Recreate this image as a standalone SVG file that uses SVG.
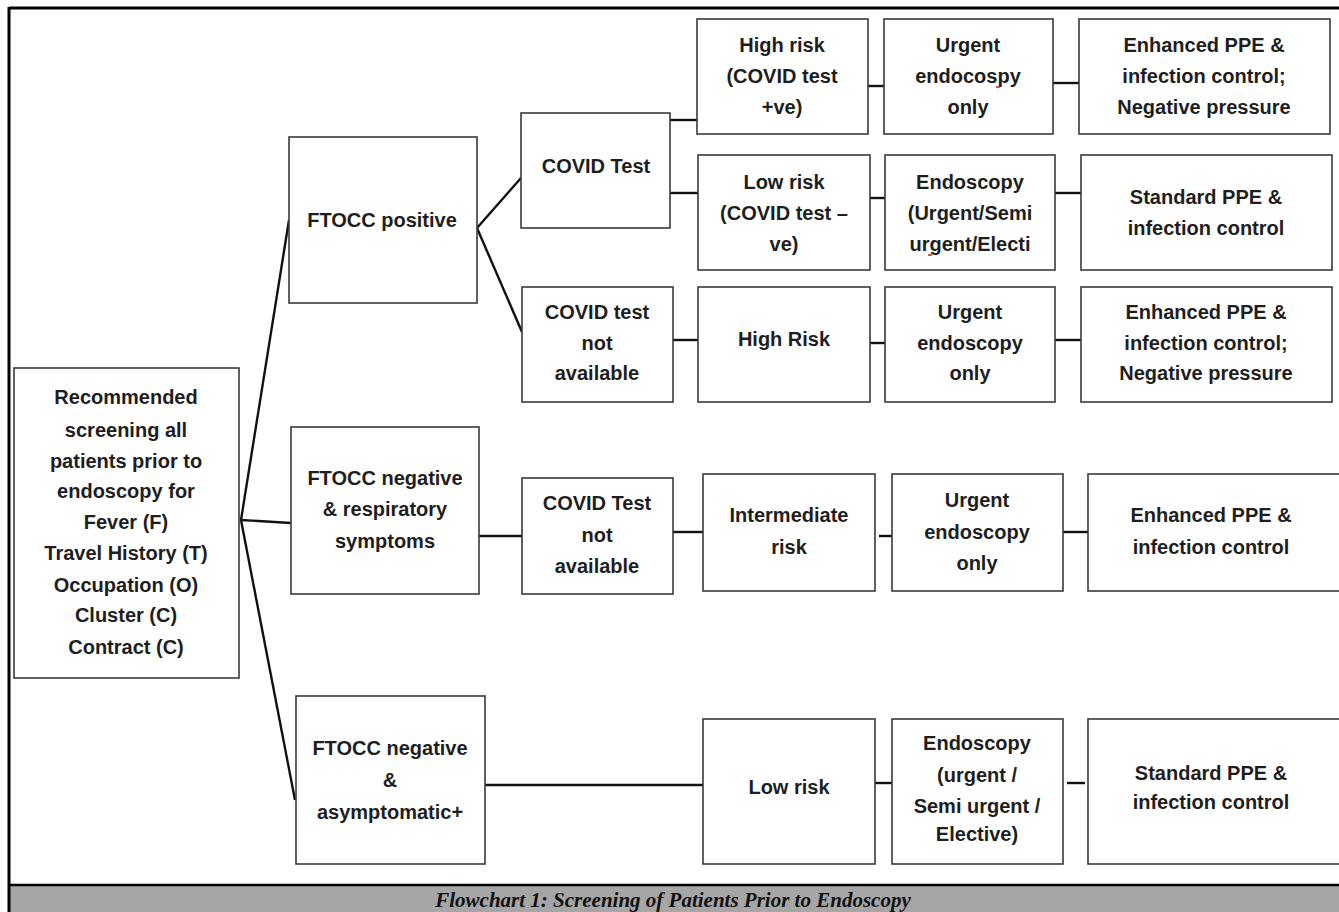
<svg xmlns="http://www.w3.org/2000/svg" width="1339" height="912" viewBox="0 0 1339 912">
<style>
.box{fill:#fff;stroke:#3a3a3a;stroke-width:1.6}
.t{font-family:"Liberation Sans",Arial,sans-serif;font-weight:bold;font-size:20px;fill:#1e1e1e;text-anchor:middle;dominant-baseline:central}
.c{stroke:#111;stroke-width:2.4;fill:none}
.cap{font-family:"Liberation Serif","Times New Roman",serif;font-weight:bold;font-style:italic;font-size:21px;fill:#111;text-anchor:middle;dominant-baseline:central}
.sq{stroke:#d02020;stroke-width:1.5}
</style>
<rect x="0" y="0" width="1339" height="912" fill="#fff"/>
<rect x="9" y="885" width="1330" height="27" fill="#a6a6a6"/>
<g id="frame" fill="none" stroke="#000">
<line x1="9" y1="8" x2="1339" y2="8" stroke-width="3"/>
<line x1="9" y1="7" x2="9" y2="912" stroke-width="3"/>
<line x1="9" y1="885" x2="1339" y2="885" stroke-width="2.5"/>
</g>
<text id="caption" class="cap" x="673" y="900">Flowchart 1: Screening of Patients Prior to Endoscopy</text>

<g id="connectors" class="c">
<line x1="241" y1="520" x2="289" y2="220"/>
<line x1="241" y1="520" x2="291" y2="523"/>
<line x1="241" y1="520" x2="295" y2="800"/>
<line x1="477" y1="228" x2="521" y2="178"/>
<line x1="477" y1="228" x2="522" y2="332"/>
<line x1="670" y1="120" x2="697" y2="120"/>
<line x1="670" y1="193" x2="698" y2="193"/>
<line x1="868" y1="86" x2="884" y2="86"/>
<line x1="1053" y1="83" x2="1079" y2="83"/>
<line x1="870" y1="198" x2="885" y2="198"/>
<line x1="1055" y1="193" x2="1081" y2="193"/>
<line x1="673" y1="340" x2="698" y2="340"/>
<line x1="870" y1="343" x2="885" y2="343"/>
<line x1="1055" y1="340" x2="1081" y2="340"/>
<line x1="479" y1="536" x2="522" y2="536"/>
<line x1="673" y1="532" x2="703" y2="532"/>
<line x1="879" y1="536" x2="894" y2="536"/>
<line x1="1063" y1="532" x2="1088" y2="532"/>
<line x1="485" y1="785" x2="703" y2="785"/>
<line x1="875" y1="783" x2="892" y2="783"/>
<line x1="1067" y1="783" x2="1085" y2="783"/>
</g>

<g id="n-screening">
<rect class="box" x="14" y="368" width="225" height="310"/>
<text class="t" x="126" y="397">Recommended</text>
<text class="t" x="126" y="430">screening all</text>
<text class="t" x="126" y="461">patients prior to</text>
<text class="t" x="126" y="491">endoscopy for</text>
<text class="t" x="126" y="522">Fever (F)</text>
<text class="t" x="126" y="553">Travel History (T)</text>
<text class="t" x="126" y="585">Occupation  (O)</text>
<text class="t" x="126" y="615">Cluster (C)</text>
<text class="t" x="126" y="647">Contract  (C)</text>
</g>

<g id="n-ftocc-pos">
<rect class="box" x="289" y="137" width="188" height="166"/>
<text class="t" x="382" y="220">FTOCC positive</text>
</g>
<g id="n-covid-test">
<rect class="box" x="521" y="113" width="149" height="115"/>
<text class="t" x="596" y="166">COVID Test</text>
</g>
<g id="n-covid-na1">
<rect class="box" x="522" y="287" width="151" height="115"/>
<text class="t" x="597" y="312">COVID test</text>
<text class="t" x="597" y="343">not</text>
<text class="t" x="597" y="373">available</text>
</g>

<g id="n-high-risk1">
<rect class="box" x="697" y="19" width="171" height="115"/>
<text class="t" x="782" y="45">High risk</text>
<text class="t" x="782" y="76">(COVID test</text>
<text class="t" x="782" y="107">+ve)</text>
</g>
<g id="n-urgent1">
<rect class="box" x="884" y="19" width="169" height="115"/>
<text class="t" x="968" y="45">Urgent</text>
<text class="t" x="968" y="76">endocospy</text>
<text class="t" x="968" y="107">only</text>
<line class="sq" x1="996" y1="87" x2="1000" y2="87"/>
</g>
<g id="n-enh1">
<rect class="box" x="1079" y="19" width="251" height="115"/>
<text class="t" x="1204" y="45">Enhanced PPE &amp;</text>
<text class="t" x="1204" y="76">infection control;</text>
<text class="t" x="1204" y="107">Negative pressure</text>
</g>

<g id="n-low-risk1">
<rect class="box" x="698" y="155" width="172" height="115"/>
<text class="t" x="784" y="182">Low risk</text>
<text class="t" x="784" y="213">(COVID test –</text>
<text class="t" x="784" y="244">ve)</text>
</g>
<g id="n-endo1">
<rect class="box" x="885" y="155" width="170" height="115"/>
<text class="t" x="970" y="182">Endoscopy</text>
<text class="t" x="970" y="213">(Urgent/Semi</text>
<text class="t" x="970" y="244">urgent/Electi</text>
<line class="sq" x1="928" y1="255" x2="932" y2="255"/>
</g>
<g id="n-std1">
<rect class="box" x="1081" y="155" width="251" height="115"/>
<text class="t" x="1206" y="197">Standard  PPE &amp;</text>
<text class="t" x="1206" y="228">infection control</text>
</g>

<g id="n-high-risk2">
<rect class="box" x="698" y="287" width="172" height="115"/>
<text class="t" x="784" y="339">High Risk</text>
</g>
<g id="n-urgent2">
<rect class="box" x="885" y="287" width="170" height="115"/>
<text class="t" x="970" y="312">Urgent</text>
<text class="t" x="970" y="343">endoscopy</text>
<text class="t" x="970" y="373">only</text>
</g>
<g id="n-enh2">
<rect class="box" x="1081" y="287" width="251" height="115"/>
<text class="t" x="1206" y="312">Enhanced PPE &amp;</text>
<text class="t" x="1206" y="343">infection control;</text>
<text class="t" x="1206" y="373">Negative pressure</text>
</g>

<g id="n-ftocc-neg-resp">
<rect class="box" x="291" y="427" width="188" height="167"/>
<text class="t" x="385" y="478">FTOCC negative</text>
<text class="t" x="385" y="509">&amp; respiratory</text>
<text class="t" x="385" y="541">symptoms</text>
</g>
<g id="n-covid-na2">
<rect class="box" x="522" y="478" width="151" height="116"/>
<text class="t" x="597" y="503">COVID Test</text>
<text class="t" x="597" y="535">not</text>
<text class="t" x="597" y="566">available</text>
</g>
<g id="n-inter">
<rect class="box" x="703" y="474" width="172" height="117"/>
<text class="t" x="789" y="515">Intermediate</text>
<text class="t" x="789" y="547">risk</text>
</g>
<g id="n-urgent3">
<rect class="box" x="892" y="474" width="171" height="117"/>
<text class="t" x="977" y="500">Urgent</text>
<text class="t" x="977" y="532">endoscopy</text>
<text class="t" x="977" y="563">only</text>
</g>
<g id="n-enh3">
<rect class="box" x="1088" y="474" width="253" height="117"/>
<text class="t" x="1211" y="515">Enhanced PPE &amp;</text>
<text class="t" x="1211" y="547">infection control</text>
</g>

<g id="n-ftocc-neg-asym">
<rect class="box" x="296" y="696" width="189" height="168"/>
<text class="t" x="390" y="748">FTOCC negative</text>
<text class="t" x="390" y="780">&amp;</text>
<text class="t" x="390" y="812">asymptomatic+</text>
</g>
<g id="n-low-risk2">
<rect class="box" x="703" y="719" width="172" height="145"/>
<text class="t" x="789" y="787">Low risk</text>
</g>
<g id="n-endo2">
<rect class="box" x="892" y="719" width="171" height="145"/>
<text class="t" x="977" y="743">Endoscopy</text>
<text class="t" x="977" y="775">(urgent /</text>
<text class="t" x="977" y="806">Semi urgent /</text>
<text class="t" x="977" y="834">Elective)</text>
</g>
<g id="n-std2">
<rect class="box" x="1088" y="719" width="253" height="145"/>
<text class="t" x="1211" y="773">Standard  PPE &amp;</text>
<text class="t" x="1211" y="802">infection control</text>
</g>
</svg>
